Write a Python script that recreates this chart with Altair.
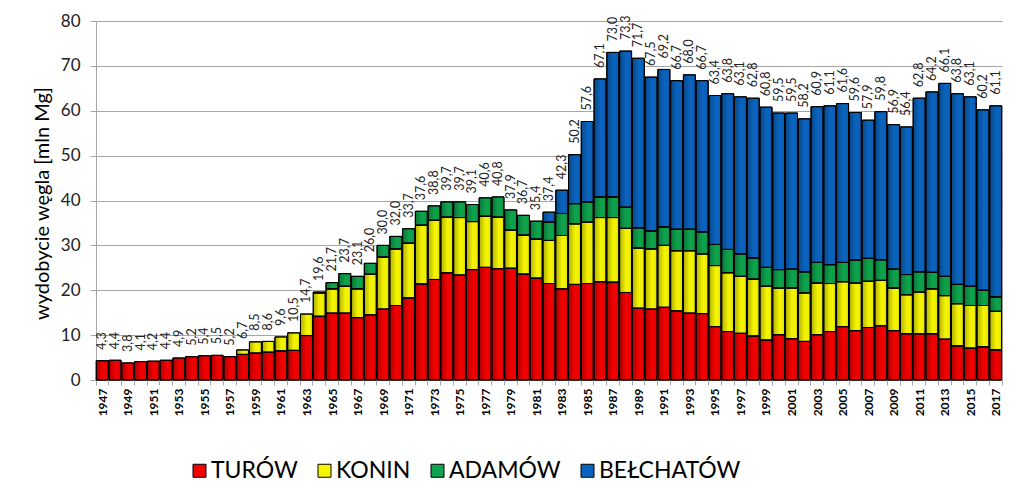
import altair as alt
import pandas as pd

YEARS = list(range(1947, 2018))

TOTALS = [4.3, 4.4, 3.8, 4.1, 4.2, 4.4, 4.9, 5.2, 5.4, 5.5,
          5.2, 6.7, 8.5, 8.6, 9.6, 10.5, 14.7, 19.6, 21.7, 23.7,
          23.1, 26.0, 30.0, 32.0, 33.7, 37.6, 38.8, 39.7, 39.7, 39.1,
          40.6, 40.8, 37.9, 36.7, 35.4, 37.4, 42.3, 50.2, 57.6, 67.1,
          73.0, 73.3, 71.7, 67.5, 69.2, 66.7, 68.0, 66.7, 63.4, 63.8,
          63.1, 62.8, 60.8, 59.5, 59.5, 58.2, 60.9, 61.1, 61.6, 59.6,
          57.9, 59.8, 56.9, 56.4, 62.8, 64.2, 66.1, 63.8, 63.1, 60.2,
          61.1]

TUROW = [4.3, 4.4, 3.8, 4.1, 4.2, 4.4, 4.9, 5.2, 5.4, 5.5,
         5.2, 5.7, 6.0, 6.2, 6.5, 6.6, 9.9, 14.2, 14.9, 14.9,
         13.9, 14.5, 15.8, 16.6, 18.3, 21.4, 22.4, 23.9, 23.4, 24.6,
         25.1, 24.8, 24.9, 23.6, 22.7, 21.5, 20.3, 21.3, 21.5, 21.9,
         21.8, 19.5, 16.0, 15.8, 16.2, 15.4, 14.9, 14.8, 11.9, 10.8,
         10.4, 9.8, 8.9, 10.1, 9.2, 8.6, 10.1, 10.8, 11.9, 11.0,
         11.7, 12.1, 11.0, 10.3, 10.3, 10.3, 9.1, 7.6, 7.1, 7.4,
         6.7]

KONIN = [0, 0, 0, 0, 0, 0, 0, 0, 0, 0,
         0, 1.0, 2.5, 2.4, 3.1, 3.9, 4.8, 5.2, 5.4, 6.0,
         6.4, 9.1, 11.6, 12.6, 12.2, 13.1, 13.2, 12.4, 12.8, 10.7,
         11.4, 11.5, 8.5, 8.7, 8.7, 9.6, 11.9, 13.5, 13.7, 14.3,
         14.4, 14.3, 13.4, 13.4, 13.8, 13.4, 13.9, 13.3, 13.6, 13.1,
         12.7, 12.7, 12.0, 10.4, 11.3, 10.8, 11.5, 10.7, 10.0, 10.6,
         10.3, 10.1, 9.5, 8.7, 9.3, 10.0, 9.7, 9.4, 9.5, 9.2,
         8.6]

ADAMOW = [0, 0, 0, 0, 0, 0, 0, 0, 0, 0,
          0, 0, 0, 0, 0, 0, 0, 0.2, 1.4, 2.8,
          2.8, 2.4, 2.6, 2.8, 3.2, 3.1, 3.2, 3.4, 3.5, 3.8,
          4.1, 4.5, 4.5, 4.4, 4.0, 4.1, 4.9, 4.5, 4.5, 4.6,
          4.6, 4.7, 4.5, 4.0, 4.1, 4.8, 4.8, 4.9, 4.7, 5.2,
          5.0, 4.7, 4.2, 4.1, 4.2, 4.7, 4.6, 4.2, 4.3, 5.1,
          5.1, 4.6, 4.2, 4.5, 4.5, 3.7, 4.3, 4.3, 4.3, 3.4,
          3.2]

BELCHATOW = [0, 0, 0, 0, 0, 0, 0, 0, 0, 0,
             0, 0, 0, 0, 0, 0, 0, 0, 0, 0,
             0, 0, 0, 0, 0, 0, 0, 0, 0, 0,
             0, 0, 0, 0, 0, 2.2, 5.2, 10.9, 17.9, 26.3,
             32.2, 34.8, 37.8, 34.3, 35.1, 33.1, 34.4, 33.7, 33.2, 34.7,
             35.0, 35.6, 35.7, 34.9, 34.8, 34.1, 34.7, 35.4, 35.4, 32.9,
             30.8, 33.0, 32.2, 32.9, 38.7, 40.2, 43.0, 42.5, 42.2, 40.2,
             42.6]

SERIES = ["TURÓW", "KONIN", "ADAMÓW", "BEŁCHATÓW"]
COLORS = ["#f20000", "#f5f500", "#0ea34c", "#0a64bf"]

rows = []
for i, yr in enumerate(YEARS):
    for k, (name, arr) in enumerate(zip(SERIES, [TUROW, KONIN, ADAMOW, BELCHATOW])):
        if arr[i] > 0:
            rows.append({"year": str(yr), "mine": name, "value": arr[i], "ord": k})
df = pd.DataFrame(rows)

lab = pd.DataFrame({
    "year": [str(y) for y in YEARS],
    "total": TOTALS,
    "label": [f"{v:.1f}".replace(".", ",") for v in TOTALS],
})

FONT = "Lato"

x_enc = alt.X(
    "year:O",
    scale=alt.Scale(paddingInner=0.06, paddingOuter=0.02),
    axis=alt.Axis(
        title=None,
        labelAngle=270,
        labelFont=FONT,
        labelFontWeight="bold",
        labelFontSize=12,
        labelColor="black",
        labelExpr="(toNumber(datum.value) - 1947) % 2 == 0 ? datum.value : ''",
        labelOverlap=False,
        labelPadding=3,
        tickBand="extent",
        tickSize=5,
        tickColor="#a6a6a6",
        domainColor="#a6a6a6",
        grid=False,
    ),
)

y_scale = alt.Scale(domain=[0, 80], nice=False)

bars = alt.Chart(df).mark_bar(stroke="black", strokeWidth=1).encode(
    x=x_enc,
    y=alt.Y(
        "value:Q",
        stack="zero",
        scale=y_scale,
        axis=alt.Axis(
            values=[0, 10, 20, 30, 40, 50, 60, 70, 80],
            title="wydobycie węgla [mln Mg]",
            titleFont=FONT,
            titleFontSize=20,
            titleFontWeight="normal",
            titleColor="black",
            titleAngle=270,
            titleX=-44,
            titleY=182,
            titleAlign="center",
            titleBaseline="bottom",
            labelFont=FONT,
            labelFontSize=17,
            labelColor="#222222",
            labelPadding=10,
            tickSize=6,
            tickColor="#a6a6a6",
            domainColor="#a6a6a6",
            gridColor="#a6a6a6",
        ),
    ),
    color=alt.Color(
        "mine:N",
        scale=alt.Scale(domain=SERIES, range=COLORS),
        sort=SERIES,
        legend=alt.Legend(
            title=None,
            orient="none",
            legendX=92,
            legendY=438,
            direction="horizontal",
            symbolType="square",
            symbolSize=169,
            symbolStrokeColor="black",
            symbolStrokeWidth=1,
            symbolOpacity=1,
            labelFont=FONT,
            labelFontSize=23,
            labelColor="black",
            labelOffset=0,
            columnPadding=15,
            padding=0,
            labelLimit=300,
        ),
    ),
    order=alt.Order("ord:Q"),
)

shade = alt.Chart(df).mark_bar(
    strokeWidth=0,
    fill=alt.Gradient(
        gradient="linear",
        x1=0, x2=1, y1=0, y2=0,
        stops=[
            alt.GradientStop(offset=0, color="rgba(0,0,0,0.28)"),
            alt.GradientStop(offset=0.55, color="rgba(0,0,0,0)"),
            alt.GradientStop(offset=0.85, color="rgba(0,0,0,0.03)"),
            alt.GradientStop(offset=1, color="rgba(0,0,0,0.18)"),
        ],
    ),
).encode(
    x=alt.X("year:O"),
    y=alt.Y("value:Q", stack="zero", scale=y_scale),
    order=alt.Order("ord:Q"),
)

outline = alt.Chart(df).mark_bar(fillOpacity=0, stroke="black", strokeWidth=1).encode(
    x=alt.X("year:O"),
    y=alt.Y("value:Q", stack="zero", scale=y_scale),
    order=alt.Order("ord:Q"),
)

labels = alt.Chart(lab).mark_text(
    angle=270,
    align="left",
    baseline="middle",
    dx=11,
    font=FONT,
    fontSize=12.5,
    color="#222222",
).encode(
    x=alt.X("year:O"),
    y=alt.Y("total:Q", scale=y_scale),
    text="label:N",
)

chart = alt.layer(bars, shade, outline, labels).properties(
    width=906,
    height=359,
    autosize=alt.AutoSizeParams(type="none"),
    padding={"left": 88, "top": 13, "right": 8, "bottom": 102},
    background="white",
).configure_view(stroke=None)

chart.save("out.html", embed_options={"renderer": "svg", "actions": False})
